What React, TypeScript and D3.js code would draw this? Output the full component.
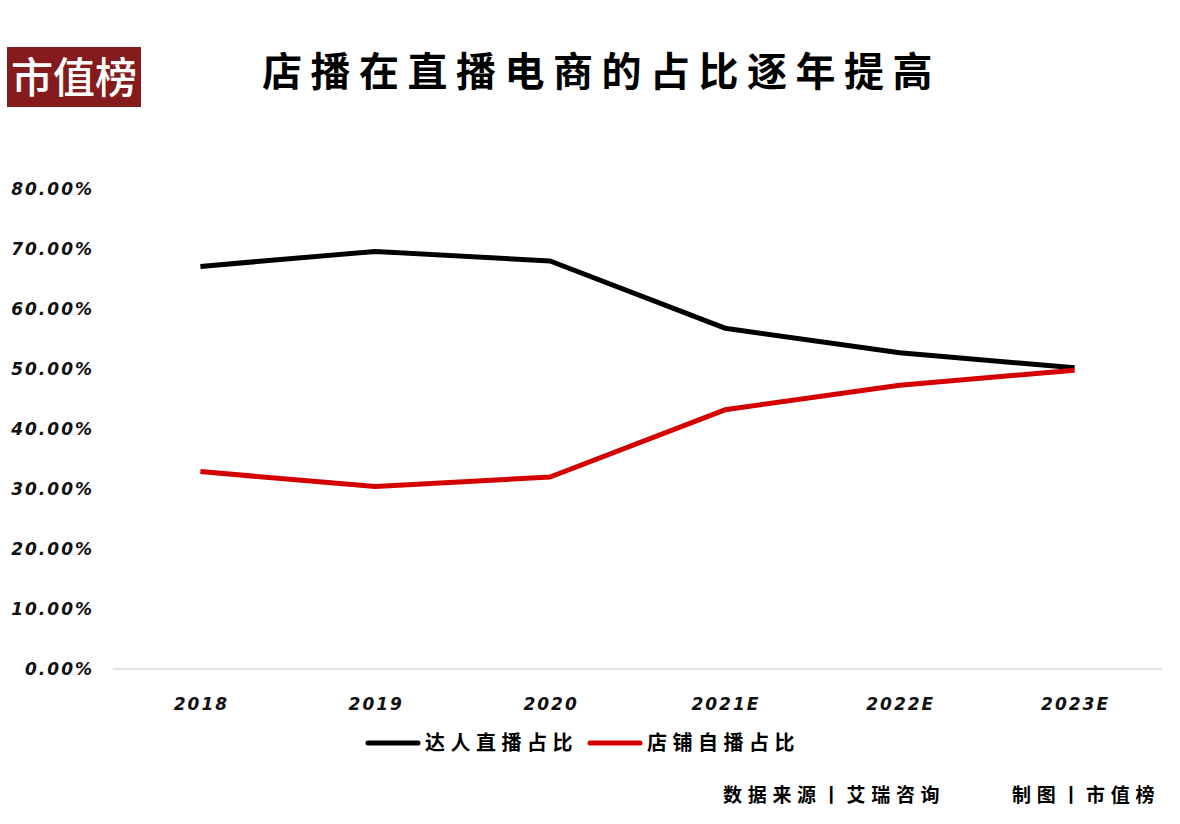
import { useEffect, useRef } from "react";
import * as d3 from "d3";

const years = ["2018", "2019", "2020", "2021E", "2022E", "2023E"];
const influencerShare = [67.1, 69.6, 68.0, 56.8, 52.7, 50.2];
const storeShare = [32.9, 30.4, 32.0, 43.2, 47.3, 49.8];
const yTicks = [0, 10, 20, 30, 40, 50, 60, 70, 80];
const seriesNames = ["达人直播占比", "店铺自播占比"];

const BLACK = "#000000";
const RED = "#d40000";
const CJK = "'Noto Sans CJK SC', sans-serif";

export default function App() {
  const ref = useRef<SVGSVGElement>(null);

  useEffect(() => {
    if (!ref.current) return;
    const width = 1180;
    const height = 824;
    const svg = d3.select(ref.current);
    svg.selectAll("*").remove();
    svg.attr("width", width).attr("height", height);

    svg.append("rect").attr("width", width).attr("height", height).attr("fill", "#fff");

    // logo
    svg.append("rect").attr("x", 7).attr("y", 47).attr("width", 134).attr("height", 60).attr("fill", "#861b1e");
    svg
      .append("text")
      .attr("x", 74)
      .attr("y", 93)
      .attr("text-anchor", "middle")
      .attr("fill", "#fff")
      .attr("font-family", CJK)
      .attr("font-size", 42)
      .attr("font-weight", 500)
      .text("市值榜");

    // title
    svg
      .append("text")
      .attr("x", 262)
      .attr("y", 86)
      .attr("fill", "#000")
      .attr("font-family", CJK)
      .attr("font-size", 40)
      .attr("font-weight", 700)
      .attr("letter-spacing", 8.5)
      .text("店播在直播电商的占比逐年提高");

    const x = d3.scaleBand().domain(years).range([113, 1162]);
    const y = d3.scaleLinear().domain([0, 80]).range([669, 189]);
    const cx = (d: string) => (x(d) ?? 0) + x.bandwidth() / 2;

    // baseline
    svg
      .append("line")
      .attr("x1", 113)
      .attr("x2", 1162)
      .attr("y1", y(0))
      .attr("y2", y(0))
      .attr("stroke", "#d9d9d9")
      .attr("stroke-width", 1.5);

    // y labels
    svg
      .append("g")
      .selectAll("text")
      .data(yTicks)
      .join("text")
      .attr("x", 94)
      .attr("y", (d) => y(d))
      .attr("dy", "0.35em")
      .attr("text-anchor", "end")
      .attr("font-family", "'DejaVu Sans', sans-serif")
      .attr("font-style", "italic")
      .attr("font-weight", 700)
      .attr("font-size", 17)
      .attr("letter-spacing", 2)
      .attr("fill", "#111")
      .text((d) => `${d.toFixed(2)}%`);

    // x labels
    svg
      .append("g")
      .selectAll("text")
      .data(years)
      .join("text")
      .attr("x", (d) => cx(d) + 1)
      .attr("y", 704)
      .attr("dy", "0.35em")
      .attr("text-anchor", "middle")
      .attr("font-family", "'DejaVu Sans', sans-serif")
      .attr("font-style", "italic")
      .attr("font-weight", 700)
      .attr("font-size", 17)
      .attr("letter-spacing", 2)
      .attr("fill", "#111")
      .text((d) => d);

    const line = d3
      .line<number>()
      .x((_, i) => cx(years[i]))
      .y((d) => y(d));

    [
      { values: influencerShare, color: BLACK },
      { values: storeShare, color: RED },
    ].forEach((s) => {
      svg
        .append("path")
        .attr("d", line(s.values))
        .attr("fill", "none")
        .attr("stroke", s.color)
        .attr("stroke-width", 5)
        .attr("stroke-linejoin", "round");
    });

    // legend
    const legend = [
      { name: seriesNames[0], color: BLACK, x: 368 },
      { name: seriesNames[1], color: RED, x: 590 },
    ];
    legend.forEach((l) => {
      svg
        .append("line")
        .attr("x1", l.x)
        .attr("x2", l.x + 50)
        .attr("y1", 743)
        .attr("y2", 743)
        .attr("stroke", l.color)
        .attr("stroke-width", 5)
        .attr("stroke-linecap", "round");
      svg
        .append("text")
        .attr("x", l.x + 57)
        .attr("y", 743)
        .attr("dy", "0.36em")
        .attr("font-family", CJK)
        .attr("font-size", 20)
        .attr("font-weight", 700)
        .attr("letter-spacing", 5.5)
        .attr("fill", "#000")
        .text(l.name);
    });

    // footer
    const footer = [
      { text: "数据来源丨艾瑞咨询", x: 723 },
      { text: "制图丨市值榜", x: 1012 },
    ];
    footer.forEach((f) => {
      svg
        .append("text")
        .attr("x", f.x)
        .attr("y", 795)
        .attr("dy", "0.36em")
        .attr("font-family", CJK)
        .attr("font-size", 19)
        .attr("font-weight", 700)
        .attr("letter-spacing", 5.7)
        .attr("fill", "#000")
        .text(f.text);
    });
  }, []);

  return (
    <div style={{ position: "absolute", left: 0, top: 0 }}>
      <svg ref={ref} style={{ display: "block" }} />
    </div>
  );
}
